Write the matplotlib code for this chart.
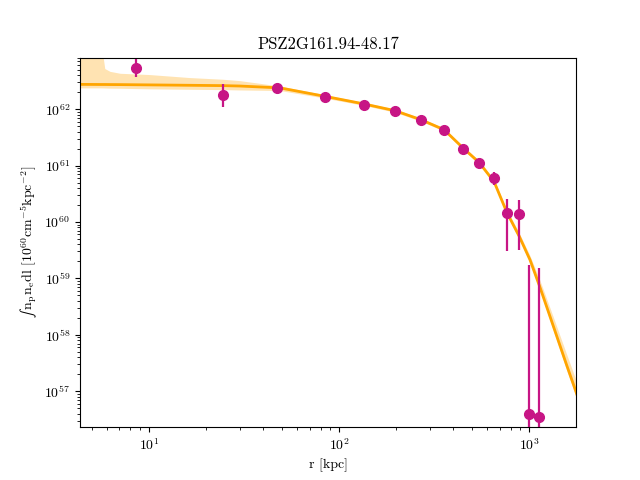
import numpy as np
import matplotlib
matplotlib.use("Agg")
import matplotlib.pyplot as plt

plt.rcParams['font.family'] = 'serif'
plt.rcParams['font.serif'] = ['cmr10']
plt.rcParams['mathtext.fontset'] = 'cm'
plt.rcParams['axes.formatter.use_mathtext'] = True

# measured profile
r_obs = [8.54, 24.5, 47.2, 84.4, 135.5, 197, 270, 357, 450, 546, 655, 766, 885, 1000, 1132]
y_obs = [5.46e62, 1.81e62, 2.41e62, 1.67e62, 1.20e62, 9.4e61, 6.5e61, 4.33e61,
         1.99e61, 1.12e61, 6.07e60, 1.45e60, 1.38e60, 4.0e56, 3.45e56]
y_obs_hi = [7.59e62, 2.84e62, 2.50e62, 1.73e62, 1.24e62, 9.7e61, 6.7e61, 4.5e61,
            2.07e61, 1.18e61, 7.76e60, 2.57e60, 2.45e60, 1.73e59, 1.51e59]
y_obs_lo = [3.78e62, 1.11e62, 2.32e62, 1.61e62, 1.16e62, 9.1e61, 6.3e61, 4.16e61,
            1.91e61, 1.06e61, 4.57e60, 3.1e59, 3.16e59, 1e50, 1e50]

# model + credible band (log10 values)
r_mod = [4.0, 5.59, 5.86, 6.24, 7.05, 10.1, 16.4, 24.5, 30, 48.9, 84.4, 135.5, 197, 270,
         357, 450, 546, 655, 764, 889, 1012, 1142, 1343, 1578, 1766, 1900]
log_mod = [62.44, 62.437, 62.437, 62.436, 62.435, 62.43, 62.423, 62.417, 62.41, 62.377,
           62.227, 62.092, 61.973, 61.813, 61.636, 61.31, 61.055, 60.712, 60.17, 59.741,
           59.327, 58.84, 58.15, 57.46, 56.99, 56.67]
log_hi = [63.2, 63.2, 62.72, 62.67, 62.636, 62.613, 62.56, 62.53, 62.506, 62.41, 62.255,
          62.12, 62.0, 61.84, 61.665, 61.34, 61.09, 60.75, 60.22, 59.80, 59.40, 58.96,
          58.31, 57.65, 57.20, 56.90]
log_lo = [62.377, 62.377, 62.375, 62.372, 62.37, 62.36, 62.352, 62.346, 62.34, 62.33,
          62.195, 62.065, 61.945, 61.785, 61.61, 61.28, 61.025, 60.685, 60.13, 59.69,
          59.28, 58.78, 58.07, 57.37, 56.90, 56.57]

r_obs = np.array(r_obs)
y_obs = np.array(y_obs)
yerr = [y_obs - np.array(y_obs_lo), np.array(y_obs_hi) - y_obs]

fig, ax = plt.subplots(figsize=(6.4, 4.8), dpi=100)

ax.fill_between(r_mod, 10**np.array(log_lo), 10**np.array(log_hi), color='orange', alpha=0.3, lw=0)
ax.plot(r_mod, 10**np.array(log_mod), color='orange', lw=2)
ax.errorbar(r_obs, y_obs, yerr=yerr, fmt='o', color='mediumvioletred', ms=7, elinewidth=1.6)

ax.set_xscale('log')
ax.set_yscale('log')
ax.set_xlim(4.34, 1766)
ax.set_ylim(2.3e56, 8.2e62)

ax.set_xlabel('r [kpc]')
# small text-style integral sign, rest in Computer Modern mathtext
ax.set_ylabel('\u222b' + r'$\,\mathrm{n_p n_e dl}\ [10^{60}\mathrm{cm^{-5}kpc^{-2}}]$',
              family=['STIXGeneral'])
ax.set_title('PSZ2G161.94-48.17')

plt.savefig('out.png')
